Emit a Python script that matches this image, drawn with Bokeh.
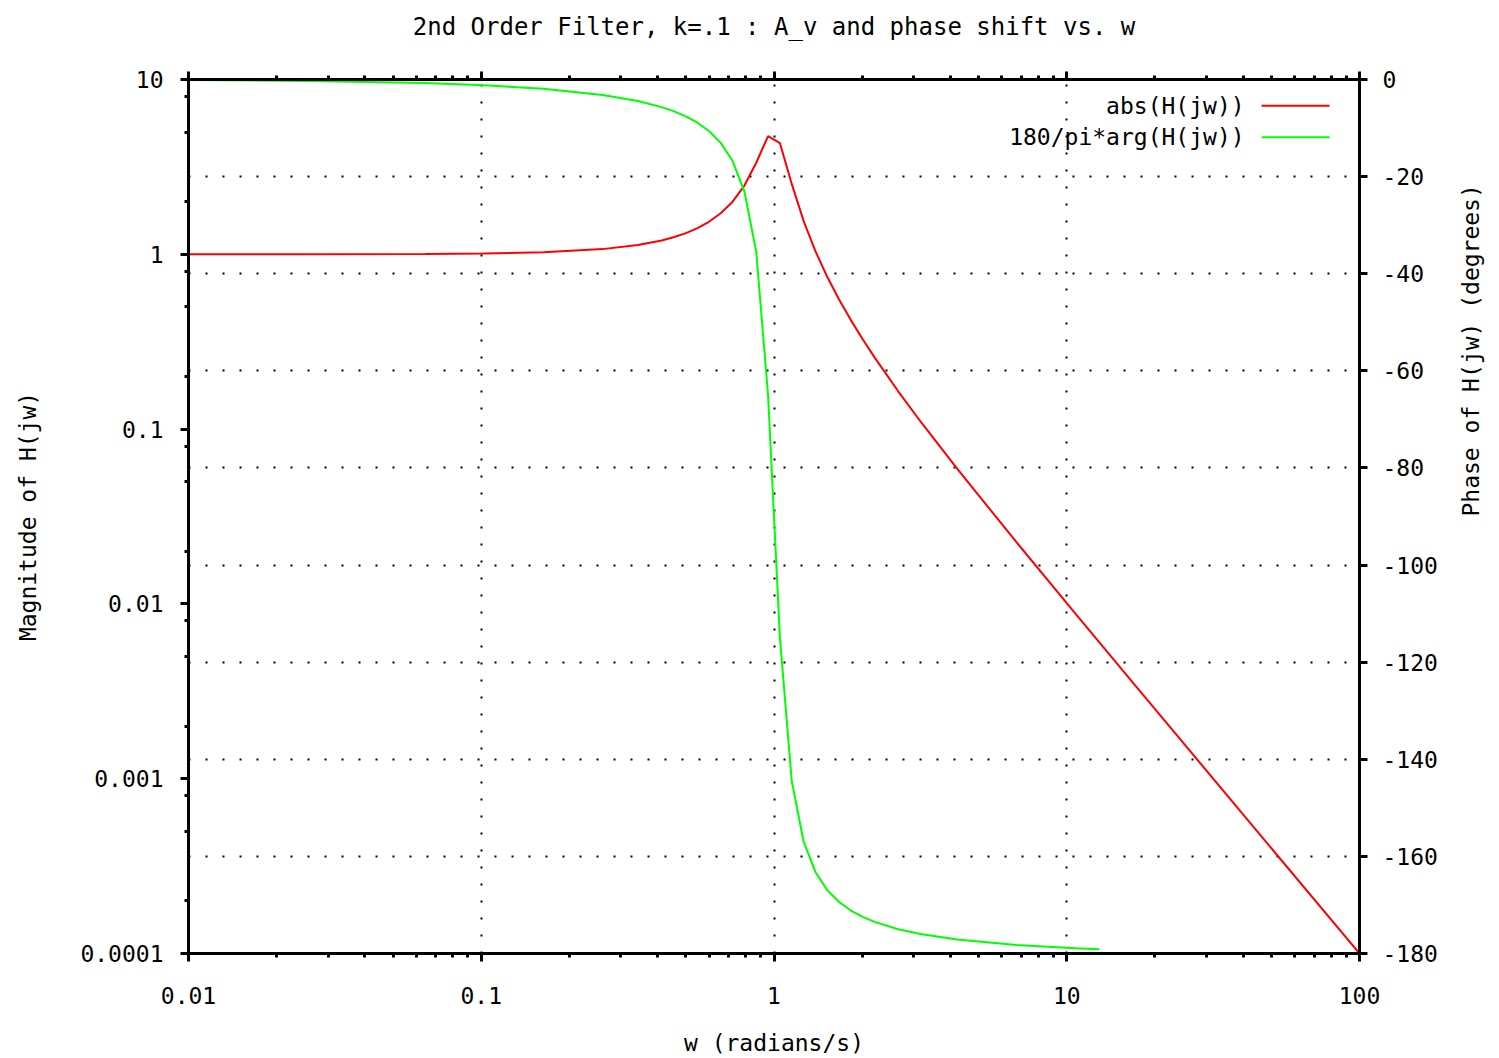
import math
from bokeh.plotting import figure
from bokeh.models import (Range1d, LinearScale, LinearAxis, LogAxis, FixedTicker,
                          Grid, Label, Arrow)
from bokeh.embed import file_html
from bokeh.resources import INLINE

# ---- data ----
omega = [0.01, 0.02535, 0.06428, 0.1023, 0.163, 0.2596, 0.343, 0.4133, 0.4535,
         0.4977, 0.5462, 0.5995, 0.6579, 0.7221, 0.7925, 0.8697, 0.9545, 1.0476,
         1.1498, 1.2619, 1.3849, 1.5199, 1.6681, 1.8307, 2.0092, 2.2051, 2.656,
         3.199, 4.229, 6.734, 10.723, 17.07, 43.29, 100.0]
magnitude = [1.0001, 1.0006, 1.0041, 1.0104, 1.0267, 1.0706, 1.1299, 1.2001, 1.2508,
             1.3178, 1.4082, 1.5344, 1.7175, 2.0004, 2.4734, 3.3407, 4.7484, 4.3275,
             2.5270, 1.5530, 1.0429, 0.74355, 0.55142, 0.42020, 0.32644, 0.25723, 0.16454,
             0.10804, 0.059152, 0.022539, 0.008772, 0.0034437, 0.0005339, 0.00010001]

omega_phase = [0.01, 0.02535, 0.06428, 0.1023, 0.163, 0.2596, 0.343, 0.4133, 0.4535,
               0.4977, 0.5462, 0.5995, 0.6579, 0.7221, 0.7925, 0.8697, 0.9545, 1.0476,
               1.1498, 1.2619, 1.3849, 1.5199, 1.6681, 1.8307, 2.0092, 2.2051, 2.656,
               3.199, 4.229, 6.734, 10.723, 12.915]
phase_deg = [-0.115, -0.291, -0.740, -1.185, -1.918, -3.186, -4.446, -5.693, -6.514,
             -7.537, -8.849, -10.60, -13.06, -16.79, -23.08, -35.52, -65.02, -114.95,
             -144.47, -156.93, -163.21, -166.94, -169.40, -171.15, -172.46, -173.49, -174.99,
             -176.04, -177.13, -178.26, -178.92, -179.11]

x_ticks = [0.01, 0.1, 1.0, 10.0, 100.0]
x_tick_labels = ["0.01", "0.1", "1", "10", "100"]
y_ticks = [0.0001, 0.001, 0.01, 0.1, 1.0, 10.0]
y_tick_labels = ["0.0001", "0.001", "0.01", "0.1", "1", "10"]
phase_ticks = [0, -20, -40, -60, -80, -100, -120, -140, -160, -180]
phase_tick_labels = ["0", "-20", "-40", "-60", "-80", "-100", "-120", "-140", "-160", "-180"]

title_text = "2nd Order Filter, k=.1 : A_v and phase shift vs. w"
series_names = ["abs(H(jw))", "180/pi*arg(H(jw))"]
series_colors = ["#ff0000", "#00ff00"]

FONT = "DejaVu Sans Mono"
FS = "23px"

x_minor = [m * 10.0 ** e for e in range(-2, 2) for m in range(2, 10)]
y_minor = [m * 10.0 ** e for e in range(-4, 1) for m in (2, 5, 8)]

p = figure(width=1499, height=1058, x_axis_type="log", y_axis_type="log",
           x_range=Range1d(0.01, 100), y_range=Range1d(0.0001, 10),
           output_backend="svg", toolbar_location=None,
           min_border_left=188, min_border_right=140, min_border_top=79,
           min_border_bottom=105)
p.extra_y_ranges = {"phase": Range1d(-180, 0)}
p.extra_y_scales = {"phase": LinearScale()}

p.background_fill_color = "white"
p.border_fill_color = "white"
p.outline_line_color = "black"
p.outline_line_width = 2


def style_axis(ax):
    ax.axis_line_color = "black"
    ax.axis_line_width = 3
    ax.major_tick_line_color = "black"
    ax.major_tick_line_width = 3
    ax.minor_tick_line_color = "black"
    ax.minor_tick_line_width = 3
    ax.major_tick_in = 0
    ax.major_tick_out = 8
    ax.minor_tick_in = 0
    ax.minor_tick_out = 4
    ax.major_label_text_font = FONT
    ax.major_label_text_font_size = FS
    ax.major_label_text_color = "black"
    ax.axis_label_text_font = FONT
    ax.axis_label_text_font_size = FS
    ax.axis_label_text_font_style = "normal"
    ax.axis_label_text_color = "black"


xticker = FixedTicker(ticks=x_ticks, minor_ticks=x_minor)
yticker = FixedTicker(ticks=y_ticks, minor_ticks=y_minor)
pticker = FixedTicker(ticks=phase_ticks, minor_ticks=[])

xa = p.xaxis[0]
xa.ticker = xticker
xa.major_label_overrides = dict(zip(x_ticks, x_tick_labels))
xa.axis_label = "w (radians/s)"
style_axis(xa)
xa.major_label_standoff = 25
xa.axis_label_standoff = 23

ya = p.yaxis[0]
ya.ticker = yticker
ya.major_label_overrides = dict(zip(y_ticks, y_tick_labels))
ya.axis_label = "Magnitude of H(jw)"
style_axis(ya)
ya.major_label_standoff = 17
ya.axis_label_standoff = 36

ra = LinearAxis(y_range_name="phase", ticker=pticker,
                major_label_overrides=dict(zip(phase_ticks, phase_tick_labels)),
                axis_label="Phase of H(jw) (degrees)")
style_axis(ra)
ra.major_label_standoff = 15
ra.axis_label_standoff = 30
ra.axis_label_orientation = math.pi / 2
p.add_layout(ra, "right")

# top mirror axis; its label carries the chart title
ta = LogAxis(ticker=xticker, axis_label=title_text)
style_axis(ta)
ta.major_label_text_alpha = 0
ta.major_label_text_font_size = "1px"
ta.major_label_standoff = 0
ta.axis_label_text_font_size = "24px"
ta.axis_label_standoff = 31
p.add_layout(ta, "above")

# grids: vertical from x decades, horizontal from phase axis
p.xgrid.ticker = FixedTicker(ticks=x_ticks)
p.xgrid.grid_line_color = "black"
p.xgrid.grid_line_width = 2
p.xgrid.grid_line_dash = "2 15"
p.ygrid.visible = False
pgrid = Grid(dimension=1, ticker=pticker, y_range_name="phase",
             grid_line_color="black", grid_line_width=2, grid_line_dash="2 15")
p.add_layout(pgrid)

p.line(omega, magnitude, line_color=series_colors[0], line_width=2)
p.line(omega_phase, phase_deg, line_color=series_colors[1], line_width=2,
       y_range_name="phase")

# legend (text on the left, sample line on the right)
leg_rows = [-5.4, -11.9]
for name, col, yy in zip(series_names, series_colors, leg_rows):
    p.add_layout(Label(x=40.5, y=yy, y_range_name="phase", text=name,
                       text_align="right", text_baseline="middle",
                       text_font=FONT, text_font_size=FS, text_color="black"))
    p.add_layout(Arrow(end=None, x_start=46.3, x_end=79.0, y_start=yy, y_end=yy,
                       y_range_name="phase", line_color=col, line_width=2))

open("out.html", "w").write(file_html(p, INLINE))
